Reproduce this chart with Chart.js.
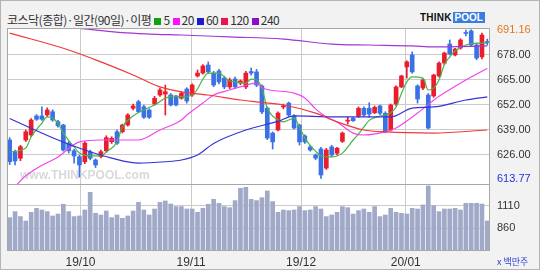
<!DOCTYPE html>
<html><head><meta charset="utf-8">
<script src="https://cdn.jsdelivr.net/npm/chart.js@4.4.1/dist/chart.umd.min.js"></script>
<style>
html,body{margin:0;padding:0;}
body{width:540px;height:270px;overflow:hidden;}
#wrap{position:relative;width:540px;height:270px;background:#f2f2f2;}
#frame{position:absolute;left:0;top:0;width:540px;height:270px;box-sizing:border-box;border:1px solid #b4b4b4;pointer-events:none;}
#title{position:absolute;left:7px;top:13px;font:12px/14px "Noto Sans CJK KR",sans-serif;letter-spacing:-0.5px;color:#333;white-space:nowrap;}
#title .sq{display:inline-block;width:7px;height:7px;margin:0 2px 0 3px;vertical-align:0px;}
#logo{position:absolute;left:420px;top:12px;height:11px;font:900 10px/11px "Liberation Sans",Arial,sans-serif;white-space:nowrap;}
#logo .t{color:#111;letter-spacing:0.2px;}
#logo .p{color:#fff;background:#3b7ddd;padding:0 2px;margin-left:1px;}
canvas{position:absolute;left:0;}
#price{top:0;}
#vol{top:184px;}
</style></head>
<body><div id="wrap">
<div id="title">코스닥(종합)·일간(90일)·이평<span class="sq" style="background:#10a010"></span>5<span class="sq" style="background:#ff10ff"></span>20<span class="sq" style="background:#1a1ad0"></span>60<span class="sq" style="background:#f01050"></span>120<span class="sq" style="background:#8a10c8"></span>240</div>
<div id="logo"><span class="t">THINK</span><span class="p">POOL</span></div>
<canvas id="price" width="540" height="184"></canvas>
<canvas id="vol" width="540" height="86"></canvas>
<div id="frame"></div>
</div>
<script>
const opens  = [633.8,627.7,624.3,633.8,636.4,646.3,646.3,646.8,648.5,643.3,641.6,632.2,628.2,625.1,622.5,627.7,623.4,625.1,628.2,632.9,638.1,638.1,641.6,650.3,653.7,651.1,649.4,652.5,657.2,657.7,657.2,656.3,655.5,660.3,657.2,667.1,668.6,672.8,668.6,669.7,666,661.4,665.5,663.4,661.4,669.4,669.2,661.9,650.4,637.4,639,651,653,646.3,641.6,635.9,630.2,626,629.1,619.2,630.2,626.9,633.1,643.6,645.1,646.3,650.3,650.3,648,651.5,647.7,639,652.5,661.4,671.8,678,661.9,660.8,657.2,656.7,667.1,673.8,683.7,678,681.6,689.7,690.5,683.2,677,685];
const highs  = [635,628.5,631,639,645,647,651,650.5,649.5,644,642,633,629,626,633,628.5,624,628.5,636,635.5,639,642,647.5,652.5,654.5,652,650,656.5,660.8,662.4,658,657,659,661,663,670.2,673,674.4,669.5,670.5,667,666,666.5,665,669.5,671.2,670.5,662.5,651,638,648.5,652.5,653.5,647,642,636.5,631,626.5,630,629.5,631,630,638,645.8,645.5,651,651,653.2,651.5,652,648.5,652.5,662,667.5,675,679.6,662.5,665.5,658,668,674.5,679.5,685.8,681.5,686.5,691,691.16,684,689.4,686.3];
const lows   = [621,620.8,623,633,635.5,644,644,646,643.5,640.5,628,627,621.8,614.5,621.5,623.5,619.5,624.5,627.5,632,631.5,637.5,641,649.5,648,645,645,652,656.5,646.8,651.5,651.5,655,653,656.5,666.5,668,668.5,661.5,663,660.5,660.5,660.5,662.5,660.5,667.5,661.5,647.5,634,629.1,638.5,650,646,639.5,631.2,632,628,623.5,613.77,618.5,625,626,632.5,642.1,643.5,645.5,646,645.6,647.5,647,637.5,638.5,651.5,661,666,668.5,653,660,639.5,656,666.5,673,678,677.5,681,687.9,682.5,675.5,676,683.2];
const closes = [622.5,622.9,630.3,638.1,644.2,644.6,644.6,649.4,644.2,641.2,628.6,628.2,625.5,620.8,632.2,624.3,620.8,627.7,635,634.7,632.1,641.6,646.8,651.5,648.5,645.6,645.6,655.5,659.8,658.9,652,652,658.1,654.1,662.4,668.6,672.3,669.2,662.4,664,661.4,665,661.4,664.5,668.6,668.6,662.4,648.4,634.8,632.8,647.8,651.5,646.8,640,632.8,632.8,628.6,624.4,615.6,628.6,626,629.5,637.4,644.1,643.8,650.3,646.8,647.3,650.8,647.7,638.1,652,661.4,667.1,674.4,669.2,655.1,665,640,667.6,673.8,679,678.5,681.1,685.8,689.2,683.2,676.4,688.4,684.5];
const volumes = [979,1047,991,942,1039,1084,1065,1047,998,1020,1129,1047,991,998,1065,1263,1028,1009,1054,979,1009,972,998,1054,1151,1065,1009,1076,1151,1166,1132,1103,1103,1076,1076,1039,1084,1129,1185,1140,1103,1091,1170,1308,1319,1185,1170,1203,1278,1159,1039,1065,1058,1065,1103,1058,1065,1103,1076,991,1009,1039,1103,1091,1020,1058,1076,1039,1103,991,1009,1084,1039,1028,1020,1084,1076,1121,1334,1114,1047,1076,1076,1084,1065,1140,1140,1140,1132,942];

// moving averages: [day index, value]
const ma5   = [[0,627.6],[3,629.6],[4,635.4],[6,642.6],[7,645.8],[9,642.6],[10,637.4],[12,630.2],[13,627],[15,625.5],[17,625.5],[18,627.6],[20,632.8],[21,640.6],[23,646.3],[25,649.4],[27,652],[29,655.6],[31,656.7],[32,656.2],[34,657.2],[35,660.3],[36,665.5],[37,668.6],[39,668.6],[40,666.6],[41,664.5],[42,664],[44,663.4],[45,665.5],[46,665],[47,660.8],[48,650.4],[50,644.2],[51,643.2],[52,644.2],[53,645.2],[54,640.6],[55,634.8],[56,631],[57,628],[58,625.5],[60,625],[61,625.5],[62,627],[64,633.8],[65,637],[66,640.6],[67,644],[69,646.3],[71,648],[72,651],[73,658],[74,664],[75,666.6],[77,666],[78,659.8],[79,660.8],[80,665],[81,673],[82,677],[83,680.1],[85,683.2],[87,684.2],[89,684.2]];
const ma20  = [[0,606],[2.5,614],[5,619],[9,625],[13,632.8],[17,633.8],[24,633.8],[28,639],[32,644.2],[33,646.8],[36,653],[38,657.2],[41,659.8],[43,661.4],[46,663.4],[47,661],[53,658.2],[55,655.6],[57,650],[59,645.8],[61,643.2],[64,637.4],[66,636.4],[70,638],[72,640],[76,647.8],[80,656.5],[85,665],[89,671]];
const ma60  = [[0,645],[8,635],[14,628.6],[19,624.4],[24,621.8],[29,622.5],[32,623.4],[35,626],[38,632],[44,639],[50,643.5],[53,646.3],[60,645.8],[71,645.8],[75,650.4],[79,651],[85,654.6],[89,656.2]];
const ma120 = [[0,689.4],[11,680.6],[17,674.4],[23,667.6],[28,661.4],[32,658.8],[37,657.2],[43,654.6],[46,653.6],[51,652],[57,647.8],[61,643.2],[66,639],[70,638],[79,637.4],[89,639]];
const ma240 = [[0,694.5],[14,691.6],[21,689.6],[26,688.9],[32,688.4],[41,687.4],[51,686.3],[60,683.7],[67,683.2],[75,682.7],[79,682.2],[89,682.7]];

const priceTicks = [626,639,652,665,678];
const periodHigh = 691.16, periodLow = 613.77;
const volumeTicks = [860,1110];
const monthTickIndex = [13.2,33.8,54.3,73.8];
const monthTickLabels = ['19/10','19/11','19/12','20/01'];

const RED = '#ec1c2c', BLUE = '#3a72e6', GRID = '#cbcbcb';
const idx = closes.map((_, i) => i);
const candleColors = idx.map(i => closes[i] >= opens[i] ? RED : BLUE);
const pts = arr => arr.map(([x, y]) => ({x, y}));
const noPad = s => { s.paddingTop = 0; s.paddingBottom = 0; s.paddingLeft = 0; s.paddingRight = 0; };

const framePlugin = {
  id: 'frame',
  beforeDraw(chart) {
    const {ctx, chartArea: a} = chart;
    ctx.save(); ctx.fillStyle = '#fff';
    ctx.fillRect(a.left, a.top, a.right - a.left, a.bottom - a.top);
    ctx.restore();
  },
  afterDraw(chart) {
    const {ctx, chartArea: a} = chart;
    ctx.save(); ctx.strokeStyle = '#a8a8a8'; ctx.lineWidth = 1;
    ctx.strokeRect(a.left + 0.5, a.top + 0.5, a.right - a.left - 1, a.bottom - a.top);
    ctx.restore();
  }
};
const watermark = {
  id: 'watermark',
  beforeDatasetsDraw(chart) {
    const {ctx, chartArea: a} = chart;
    ctx.save(); ctx.fillStyle = '#d9d9d9'; ctx.font = 'bold 12px "Liberation Sans"';
    ctx.textBaseline = 'middle'; ctx.fillText('www.THINKPOOL.com', a.left + 13, a.bottom - 8);
    ctx.restore();
  }
};
const unitLabel = {
  id: 'unitLabel',
  afterDraw(chart) {
    const {ctx, chartArea: a} = chart;
    ctx.save(); ctx.fillStyle = '#2a3fd6'; ctx.font = '9px "Noto Sans CJK KR"';
    ctx.textBaseline = 'middle'; ctx.fillText('x 백만주', a.right + 7, a.bottom + 12);
    ctx.restore();
  }
};

const lineDs = (data, color) => ({type: 'line', data: pts(data), borderColor: color, borderWidth: 1.2,
  pointRadius: 0, cubicInterpolationMode: 'monotone', order: 0});

new Chart(document.getElementById('price'), {
  type: 'line',
  data: {datasets: [
    lineDs(ma240, '#a236d6'),
    lineDs(ma120, '#f03a3a'),
    lineDs(ma60, '#3434d8'),
    lineDs(ma20, '#f046f0'),
    lineDs(ma5, '#46b446'),
    {type: 'bar', data: idx.map(i => ({x: i, y: [lows[i], highs[i]]})), backgroundColor: candleColors,
      barThickness: 1, grouped: false, order: 6},
    {type: 'bar', data: idx.map(i => ({x: i, y: [opens[i], closes[i]]})), backgroundColor: candleColors,
      barThickness: 4, grouped: false, minBarLength: 1, order: 5}
  ]},
  options: {
    responsive: false, animation: false, events: [],
    layout: {padding: {top: 28, left: 7, right: 0, bottom: 0}},
    plugins: {legend: {display: false}, tooltip: {enabled: false}},
    scales: {
      x: {type: 'linear', min: -0.5, max: 89.5, offset: false,
        afterBuildTicks(s) { s.ticks = monthTickIndex.map(v => ({value: v})); },
        ticks: {display: false}, grid: {color: GRID, drawTicks: false, offset: false},
        border: {display: false}, afterFit(s) { s.height = 0; noPad(s); }},
      y: {position: 'right', min: 610.92, max: 692.04,
        afterBuildTicks(s) { s.ticks = [periodLow, ...priceTicks, periodHigh].map(v => ({value: v})); },
        ticks: {autoSkip: false, padding: 7, font: {family: 'Liberation Sans', size: 11},
          color: c => c.tick.value === periodHigh ? '#e07818' : (c.tick.value === periodLow ? '#2233dd' : '#333'),
          callback: v => Number(v).toFixed(2)},
        grid: {drawTicks: false, color: c => (c.tick && priceTicks.includes(c.tick.value)) ? GRID : 'rgba(0,0,0,0)'},
        border: {display: false}, afterFit(s) { s.width = 50; noPad(s); }}
    }
  },
  plugins: [framePlugin, watermark]
});

new Chart(document.getElementById('vol'), {
  type: 'bar',
  data: {datasets: [
    {data: idx.map(i => ({x: i, y: volumes[i]})), backgroundColor: '#a0a9c7', barThickness: 4, grouped: false}
  ]},
  options: {
    responsive: false, animation: false, events: [],
    layout: {padding: {top: 0, left: 7, right: 0, bottom: 0}},
    plugins: {legend: {display: false}, tooltip: {enabled: false}},
    scales: {
      x: {type: 'linear', min: -0.5, max: 89.5, offset: false,
        afterBuildTicks(s) { s.ticks = monthTickIndex.map(v => ({value: v})); },
        ticks: {autoSkip: false, maxRotation: 0, padding: 5, color: '#333', font: {family: 'Liberation Sans', size: 12},
          callback: v => monthTickLabels[monthTickIndex.indexOf(v)]},
        grid: {color: GRID, drawTicks: false, offset: false}, border: {display: false},
        afterFit(s) { s.height = 20; noPad(s); }},
      y: {position: 'right', min: 617, max: 1356,
        afterBuildTicks(s) { s.ticks = volumeTicks.map(v => ({value: v})); },
        ticks: {autoSkip: false, padding: 7, color: '#333', font: {family: 'Liberation Sans', size: 11},
          callback: v => String(v)},
        grid: {drawTicks: false, color: GRID}, border: {display: false},
        afterFit(s) { s.width = 50; noPad(s); }}
    }
  },
  plugins: [framePlugin, unitLabel]
});
</script>
</body></html>
